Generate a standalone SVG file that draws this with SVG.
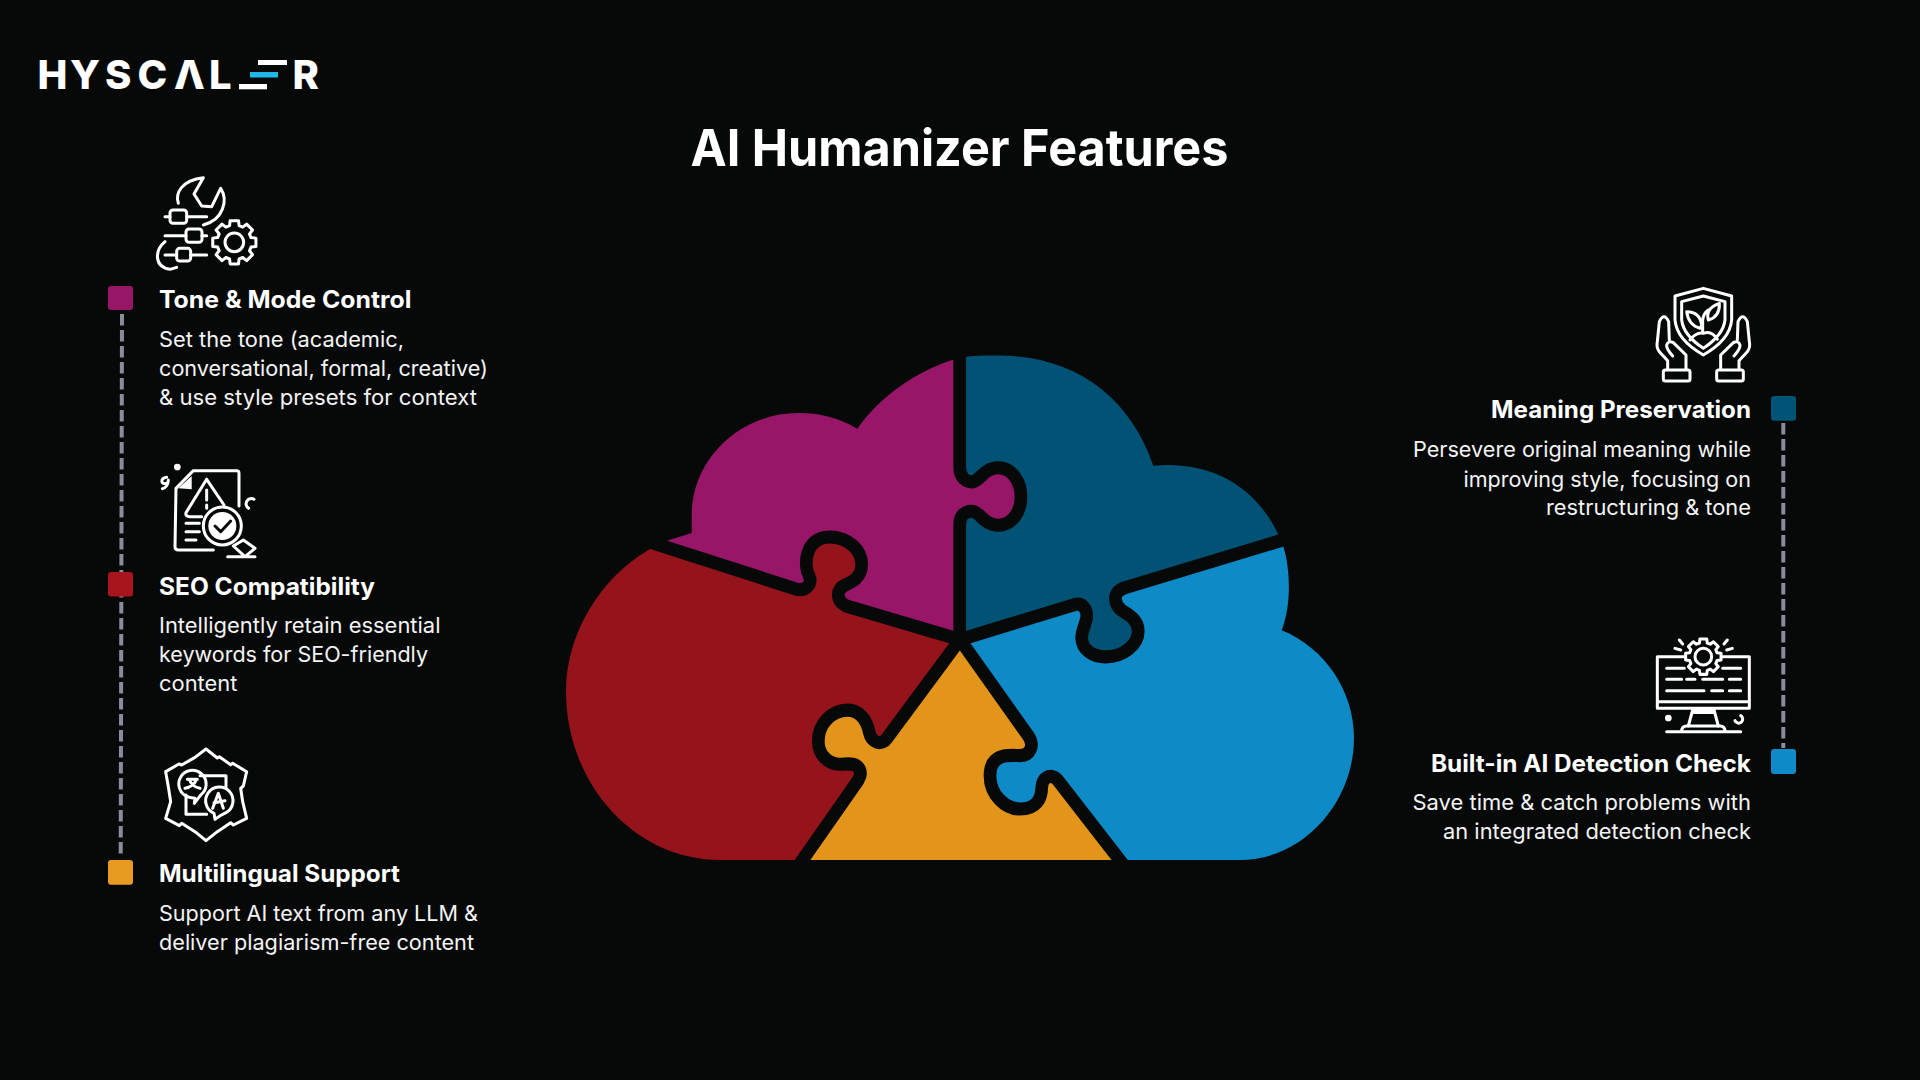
<svg xmlns="http://www.w3.org/2000/svg" xmlns:xlink="http://www.w3.org/1999/xlink" width="1920" height="1080" viewBox="0 0 1920 1080">
<style>
text{font-family:Inter,"Liberation Sans",sans-serif;fill:#fff}
.h{font-size:24px;font-weight:700}
.b{font-size:21.5px;font-weight:400;fill:#f4f4f4}
.e{text-anchor:end}
.ic{fill:none;stroke:#fff;stroke-width:9;stroke-linecap:round;stroke-linejoin:round}
.f{fill:#fff;stroke:none}
.dash{fill:none;stroke:#8b8b9c;stroke-width:4;stroke-dasharray:11.5 4.5}
.sep{fill:none;stroke:#070909;stroke-width:12.7;stroke-linecap:round;stroke-linejoin:round}
</style>
<defs>
<path id="gear" d="M-14.3-50L-12.6-64.8L12.6-64.8L14.3-50L25.2-45.5L36.9-54.7L54.7-36.9L45.5-25.2L50-14.3L64.8-12.6L64.8 12.6L50 14.3L45.5 25.2L54.7 36.9L36.9 54.7L25.2 45.5L14.3 50L12.6 64.8L-12.6 64.8L-14.3 50L-25.2 45.5L-36.9 54.7L-54.7 36.9L-45.5 25.2L-50 14.3L-64.8 12.6L-64.8-12.6L-50-14.3L-45.5-25.2L-54.7-36.9L-36.9-54.7L-25.2-45.5Z"/>
</defs>
<rect width="1920" height="1080" fill="#070909"/>

<g id="logo">
<text x="37.5 70 105 137.5 174 209" y="89.3" font-size="40" font-weight="800">HYSCΛL</text>
<rect x="258" y="60" width="29" height="5" fill="#fff"/>
<rect x="250" y="72" width="28" height="5.5" fill="#1fb6ea"/>
<rect x="239" y="84" width="28" height="5.3" fill="#fff"/>
<text x="292.5" y="89.3" font-size="40" font-weight="800">R</text>
</g>

<text id="title" x="690.4" y="165.5" font-size="51" font-weight="700" textLength="538" lengthAdjust="spacingAndGlyphs">AI Humanizer Features</text>

<g id="puzzle" transform="matrix(1 0 0 1.0331 0 -11.25)">
<path id="piece-purple" fill="#981668" d="M959.7,356 L959.7,463.3 C959.7,473.3 966.7,477.3 971.7,477.3 C980,477.3 983.3,463.7 998.3,463.7 C1011.7,463.7 1021,476.7 1021,491.7 C1021,506.7 1011.7,519.3 998.3,519.3 C983.3,519.3 980,505.7 971.7,505.7 C965,505.7 959.7,510 959.7,518.3 L959.7,630 L846,597.3 C835,591.7 836.7,580.7 845,577.3 C851.7,574.3 861.7,570 861.7,557.3 C861.7,543.3 848.3,530.7 829.3,530.7 C805,530.7 803.3,558.3 809,568.3 C813.3,576.7 805,584 795,580.7 L658.3,538.3 L666.7,534.3 L691.7,526.7 L691.7,510 C691.7,455 740,410.7 798,410.7 C820,410.7 838,415 857.3,426 C880,395 915,370 959.7,357 Z"/>
<path id="piece-teal" fill="#015274" d="M959.7,357 C975,355 985,355 998,355 C1075,355 1130,395 1153.3,461.7 C1220,456 1260,490 1278.3,528.3 L1280.7,534 L1124,580 C1110,585 1116,597.7 1121.7,601.7 C1126.7,605 1138.3,610 1138.3,621.7 C1138.3,635 1123.3,646.7 1105.7,646.7 C1093.3,646.7 1081.7,640 1081.7,628.3 C1081.7,620 1086,615 1086.7,608.3 C1087.3,601.7 1083.3,594 1075,596 L960,630 L959.7,518.3 C959.7,510 965,505.7 971.7,505.7 C980,505.7 983.3,519.3 998.3,519.3 C1011.7,519.3 1021,506.7 1021,491.7 C1021,476.7 1011.7,463.7 998.3,463.7 C983.3,463.7 980,477.3 971.7,477.3 C966.7,477.3 959.7,473.3 959.7,463.3 Z"/>
<path id="piece-blue" fill="#0e8ac6" d="M1280.7,534 L1283.3,540 C1290,560 1292,595 1281.7,621 C1325,638 1354,680 1354,725 C1354,788 1303,843.3 1240,843.3 L1120,843.3 L1058.3,766.7 C1051.7,758.3 1041.7,763.3 1041.7,773.3 C1041.7,783.3 1036.7,794 1020,794 C1005,794 990,780 990,761.7 C990,738.3 1011.7,742.3 1020,742.3 C1030,742.3 1035,732.7 1028.3,723.3 L960,630 L1075,596 C1083.3,594 1087.3,601.7 1086.7,608.3 C1086,615 1081.7,620 1081.7,628.3 C1081.7,640 1093.3,646.7 1105.7,646.7 C1123.3,646.7 1138.3,635 1138.3,621.7 C1138.3,610 1126.7,605 1121.7,601.7 C1116,597.7 1110,585 1124,580 Z"/>
<path id="piece-orange" fill="#e3941a" d="M960,630 L1028.3,723.3 C1035,732.7 1030,742.3 1020,742.3 C1011.7,742.3 990,738.3 990,761.7 C990,780 1005,794 1020,794 C1036.7,794 1041.7,783.3 1041.7,773.3 C1041.7,763.3 1051.7,758.3 1058.3,766.7 L1120,843.3 L802.7,843.3 L858.3,766 C860,763.3 861.7,759.3 859.3,755 C855,748.3 846.7,750.7 840,750.7 C828.3,750.7 818.3,741.7 818.3,728.3 C818.3,711.7 831.7,698.3 847.7,698.3 C858.3,698.3 866.7,706.7 869.3,720 C871.7,730 881.7,733.3 887.3,725 Z"/>
<path id="piece-red" fill="#95131a" d="M960,630 L887.3,725 C881.7,733.3 871.7,730 869.3,720 C866.7,706.7 858.3,698.3 847.7,698.3 C831.7,698.3 818.3,711.7 818.3,728.3 C818.3,741.7 828.3,750.7 840,750.7 C846.7,750.7 855,748.3 859.3,755 C861.7,759.3 860,763.3 858.3,766 L802.7,843.3 L720,843.3 C635,843.3 566,770 566,680 C566,625 600,570 650,542.3 L658.3,538.3 L795,580.7 C805,584 813.3,576.7 809,568.3 C803.3,558.3 805,530.7 829.3,530.7 C848.3,530.7 861.7,543.3 861.7,557.3 C861.7,570 851.7,574.3 845,577.3 C836.7,580.7 835,591.7 846,597.3 Z"/>
<g id="separators" class="sep">
<path d="M959.7,350 L959.7,463.3 C959.7,473.3 966.7,477.3 971.7,477.3 C980,477.3 983.3,463.7 998.3,463.7 C1011.7,463.7 1021,476.7 1021,491.7 C1021,506.7 1011.7,519.3 998.3,519.3 C983.3,519.3 980,505.7 971.7,505.7 C965,505.7 959.7,510 959.7,518.3 L959.7,630"/>
<path d="M960,630 L1075,596 C1083.3,594 1087.3,601.7 1086.7,608.3 C1086,615 1081.7,620 1081.7,628.3 C1081.7,640 1093.3,646.7 1105.7,646.7 C1123.3,646.7 1138.3,635 1138.3,621.7 C1138.3,610 1126.7,605 1121.7,601.7 C1116,597.7 1110,585 1124,580 L1295,530"/>
<path d="M960,630 L1028.3,723.3 C1035,732.7 1030,742.3 1020,742.3 C1011.7,742.3 990,738.3 990,761.7 C990,780 1005,794 1020,794 C1036.7,794 1041.7,783.3 1041.7,773.3 C1041.7,763.3 1051.7,758.3 1058.3,766.7 L1125,850"/>
<path d="M960,630 L887.3,725 C881.7,733.3 871.7,730 869.3,720 C866.7,706.7 858.3,698.3 847.7,698.3 C831.7,698.3 818.3,711.7 818.3,728.3 C818.3,741.7 828.3,750.7 840,750.7 C846.7,750.7 855,748.3 859.3,755 C861.7,759.3 860,763.3 858.3,766 L797,851"/>
<path d="M960,630 L846,597.3 C835,591.7 836.7,580.7 845,577.3 C851.7,574.3 861.7,570 861.7,557.3 C861.7,543.3 848.3,530.7 829.3,530.7 C805,530.7 803.3,558.3 809,568.3 C813.3,576.7 805,584 795,580.7 L645,534"/>
</g>
</g>

<g id="connectors">
<path class="dash" d="M122,314 L120.7,858"/>
<path class="dash" d="M1783.3,423 L1783.3,748"/>
</g>

<g id="node-tone">
<g class="ic" transform="translate(0,30) scale(.33333)">
<path d="M535,520 C525,490 545,450 610,443 L582,492 L605,528 L635,530 L662,475 C685,510 670,570 610,585"/>
<path d="M495,560H510M560,560H620M495,617H558M606,617H620M495,675H530M572,675H620"/>
<rect x="510" y="540" width="50" height="40" rx="9"/><rect x="558" y="597" width="48" height="40" rx="9"/><rect x="530" y="655" width="42" height="38" rx="9"/>
<path d="M495,635 C465,660 460,710 510,718 L530,712"/>
<use xlink:href="#gear" href="#gear" transform="translate(703,637)"/><circle cx="703" cy="637" r="28"/>
</g>
<rect x="108" y="286" width="25" height="24" rx="3" fill="#981668"/>
<text class="h" x="159" y="307.8" textLength="252.5" lengthAdjust="spacingAndGlyphs">Tone &amp; Mode Control</text>
<text class="b" x="159" y="346.7" textLength="245" lengthAdjust="spacingAndGlyphs">Set the tone (academic,</text>
<text class="b" x="159" y="376" textLength="329" lengthAdjust="spacingAndGlyphs">conversational, formal, creative)</text>
<text class="b" x="159" y="405" textLength="318" lengthAdjust="spacingAndGlyphs">&amp; use style presets for context</text>
</g>

<g id="node-seo">
<g class="ic" transform="translate(100,440) scale(.33333)">
<path d="M340,330 L235,330 Q225,330 225,320 L228,145 L280,92 L410,92 Q417,92 417,100 L417,198"/>
<path class="f" d="M235,145 L275,108 L275,148Z"/>
<path d="M320,118 L258,218 Q255,230 270,230 L305,230M320,118 L372,195M320,150V180M320,195V205"/>
<path d="M258,250H298M258,275H298M258,300H288"/>
<circle cx="367" cy="258" r="57"/><circle class="f" cx="367" cy="258" r="42"/>
<path d="M345,258 L362,275 L392,243" stroke="#070909"/>
<path d="M400,318 L430,300 L465,325 L435,350 Z M383,350H465"/>
<circle class="f" cx="232" cy="81" r="10"/>
<path d="M200,112 C180,115 182,135 198,130 M205,120 C205,135 195,145 187,146"/>
<path d="M462,178 A14,14 0 1 0 446,205"/>
</g>
<rect x="108" y="572" width="25" height="24.6" rx="3" fill="#a8151f"/>
<text class="h" x="159" y="594.5" textLength="216" lengthAdjust="spacingAndGlyphs">SEO Compatibility</text>
<text class="b" x="159" y="633.3" textLength="281.5" lengthAdjust="spacingAndGlyphs">Intelligently retain essential</text>
<text class="b" x="159" y="662.3" textLength="269" lengthAdjust="spacingAndGlyphs">keywords for SEO-friendly</text>
<text class="b" x="159" y="690.7" textLength="78.5" lengthAdjust="spacingAndGlyphs">content</text>
</g>

<g id="node-multilingual">
<g class="ic" transform="translate(100,730) scale(.33333)">
<path d="M318,57 L352,84 L358,80 L392,104 L398,100 L440,125 L430,168 L422,175 L428,215 L440,265 L400,285 L392,278 L352,305 L318,332 L285,305 L245,280 L238,287 L197,265 L212,215 L205,170 L197,125 L237,102 L245,105 L285,82Z"/>
<path d="M258,195 V253 H320 M300,137 H378 V172"/>
<path d="M265,201 A41,41 0 1 1 303,194 L283,220 L285,205 Q275,204 265,201Z"/>
<path d="M342,250 A41,41 0 1 1 378,248 Q362,255 345,268 Z"/>
<path d="M262,148H292M268,148Q275,170 300,175M290,148Q280,170 255,175"/>
<path d="M338,235L355,190L370,235M342,218L375,212"/>
</g>
<rect x="108" y="860" width="25" height="24.7" rx="3" fill="#e79b20"/>
<text class="h" x="159" y="881.7" textLength="241" lengthAdjust="spacingAndGlyphs">Multilingual Support</text>
<text class="b" x="159" y="921" textLength="319" lengthAdjust="spacingAndGlyphs">Support AI text from any LLM &amp;</text>
<text class="b" x="159" y="950" textLength="315" lengthAdjust="spacingAndGlyphs">deliver plagiarism-free content</text>
</g>

<g id="node-meaning">
<g class="ic" transform="translate(1400,270) scale(.33333)">
<path d="M910,55 L995,78 L995,150 Q990,210 910,255 Q830,210 825,150 L825,78 Z"/>
<path d="M910,78 L975,95 L975,150 Q970,195 910,235 Q850,195 845,150 L845,95 Z"/>
<path d="M908,188 L908,150 Q910,130 925,120M925,150 Q915,115 958,100 Q960,140 925,150ZM900,175 Q865,165 860,125 Q900,125 905,165Z"/>
<path d="M870,210 Q890,185 910,190 Q935,180 952,208"/>
<path id="hand" d="M803,298 L803,272 L778,245 Q768,232 772,215 L778,155 Q792,125 806,155 L808,210 M858,298 L858,255 L820,218 Q805,210 800,225 Q798,235 818,258"/>
<use xlink:href="#hand" href="#hand" transform="matrix(-1 0 0 1 1820 0)"/>
<rect x="790" y="300" width="80" height="33" rx="6"/><rect x="950" y="300" width="80" height="33" rx="6"/>
</g>
<rect x="1771" y="396" width="25" height="24.7" rx="3" fill="#015476"/>
<text class="h e" x="1751" y="417.7" textLength="260" lengthAdjust="spacingAndGlyphs">Meaning Preservation</text>
<text class="b e" x="1751" y="457.3" textLength="338" lengthAdjust="spacingAndGlyphs">Persevere original meaning while</text>
<text class="b e" x="1751" y="486.7" textLength="287.5" lengthAdjust="spacingAndGlyphs">improving style, focusing on</text>
<text class="b e" x="1751" y="515" textLength="205" lengthAdjust="spacingAndGlyphs">restructuring &amp; tone</text>
</g>

<g id="node-detection">
<g class="ic" transform="translate(1400,620) scale(.33333)">
<path d="M855,110 L772,110 L772,265 L1048,265 L1048,110 L965,110M772,245H1048"/>
<use xlink:href="#gear" href="#gear" transform="translate(910,110) scale(.82)" stroke-width="11"/><circle cx="910" cy="110" r="25"/>
<path d="M838,60L848,72M825,85L842,90M982,60L972,72M997,85L980,90"/>
<path d="M800,145H853M968,145H1022M800,178H845M860,178H885M908,178H968M988,178H1022M800,212H912M935,212H968M988,212H1022"/>
<path d="M878,270L865,318M942,270L955,318"/>
<path class="f" d="M875,265H945L948,282H872Z"/>
<path d="M845,335Q845,318 860,318H960Q975,318 975,335M800,335H1022"/>
<circle class="f" cx="805" cy="294" r="10"/>
<path d="M1022,287A12,12 0 1 1 1005,302"/>
</g>
<rect x="1771" y="749" width="25" height="25" rx="3" fill="#0e8ac8"/>
<text class="h e" x="1751" y="771.7" textLength="320" lengthAdjust="spacingAndGlyphs">Built-in AI Detection Check</text>
<text class="b e" x="1751" y="810" textLength="338.5" lengthAdjust="spacingAndGlyphs">Save time &amp; catch problems with</text>
<text class="b e" x="1751" y="839" textLength="308" lengthAdjust="spacingAndGlyphs">an integrated detection check</text>
</g>
</svg>
